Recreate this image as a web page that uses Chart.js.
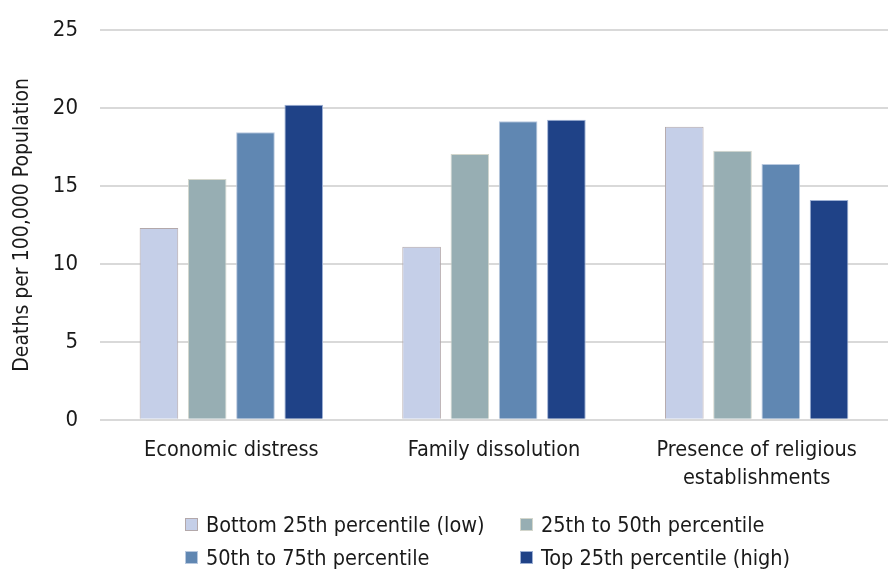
<!DOCTYPE html>
<html>
<head>
<meta charset="utf-8">
<script src="https://cdn.jsdelivr.net/npm/chart.js@4/dist/chart.umd.min.js"></script>
<style>
  html, body { margin: 0; padding: 0; background: #fff; }
  #wrap { position: relative; width: 888px; height: 572px; }
  #legend { position: absolute; left: 185px; top: 512px; display: grid;
    grid-template-columns: 335px 300px; row-gap: 9px;
    font-family: "DejaVu Sans Condensed", "Liberation Sans Narrow", sans-serif; font-size: 21.5px; color: #1a1a1a; }
  .item { display: flex; align-items: center; height: 24px; }
  .box { width: 13px; height: 13px; margin-right: 8px; box-sizing: border-box; }
</style>
</head>
<body>
<div id="wrap">
  <canvas id="c" width="888" height="572"></canvas>
  <div id="legend"></div>
</div>
<script>
const categories = ["Economic distress", "Family dissolution", ["Presence of religious", "establishments"]];
const seriesNames = ["Bottom 25th percentile (low)", "25th to 50th percentile", "50th to 75th percentile", "Top 25th percentile (high)"];
const bottom25 = [12.3, 11.1, 18.8];
const p25to50 = [15.45, 17.05, 17.25];
const p50to75 = [18.45, 19.15, 16.4];
const top25 = [20.2, 19.25, 14.1];
const yTicks = [0, 5, 10, 15, 20, 25];

const fills = ["#C5CFE8", "#97AEB3", "#6087B2", "#1F4287"];
const borders = ["#B3A8AA", "#D3D6CC", "#B9C9DF", "#9DB0D4"];
const seriesValues = [bottom25, p25to50, p50to75, top25];
const FONT = '"DejaVu Sans Condensed", "Liberation Sans Narrow", sans-serif';

const datasets = seriesNames.map((n, i) => ({
  label: n,
  data: seriesValues[i],
  backgroundColor: fills[i],
  borderColor: borders[i],
  borderWidth: 1,
  barPercentage: 0.8,
  categoryPercentage: 0.735
}));

new Chart(document.getElementById("c"), {
  type: "bar",
  data: { labels: categories, datasets },
  options: {
    responsive: false,
    animation: false,
    layout: { padding: { top: 30, right: 0, left: 0, bottom: 71 } },
    plugins: { legend: { display: false }, tooltip: { enabled: false } },
    scales: {
      x: {
        grid: { display: false },
        border: { display: false },
        ticks: { color: "#1a1a1a", font: { family: FONT, size: 21.5, lineHeight: 1.33 }, padding: 8, maxRotation: 0 }
      },
      y: {
        min: 0, max: 25,
        afterBuildTicks: (s) => { s.ticks = yTicks.map(v => ({ value: v })); },
        afterFit: (s) => { s.width = 100; },
        grid: { color: "#D9D9D9", lineWidth: 2, drawTicks: true, tickLength: 22, tickColor: "rgba(0,0,0,0)" },
        border: { display: false },
        ticks: { color: "#1a1a1a", font: { family: FONT, size: 22 }, padding: 0 },
        title: { display: true, text: "Deaths per 100,000 Population", color: "#1a1a1a", font: { family: FONT, size: 21 }, padding: { top: 10, bottom: 0 } }
      }
    }
  }
});

const lg = document.getElementById("legend");
[0, 1, 2, 3].forEach(i => {
  const d = document.createElement("div");
  d.className = "item";
  d.innerHTML = '<span class="box" style="background:' + fills[i] + ';border:1px solid ' + borders[i] + '"></span><span>' + seriesNames[i] + '</span>';
  lg.appendChild(d);
});
</script>
</body>
</html>
